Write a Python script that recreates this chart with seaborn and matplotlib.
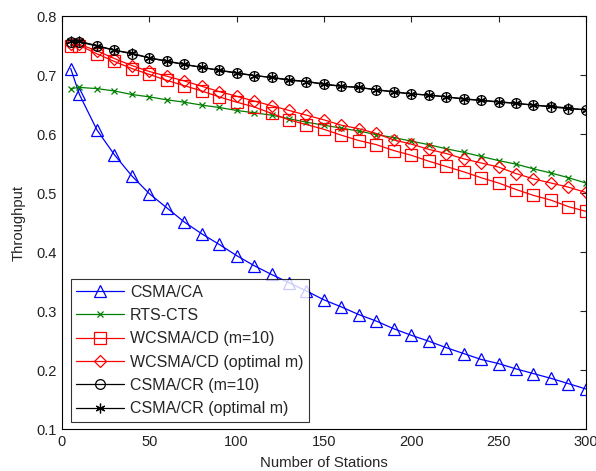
import matplotlib
matplotlib.use("Agg")
import matplotlib.pyplot as plt
import seaborn as sns
import numpy as np

stations = [5, 10, 20, 30, 40, 50, 60, 70, 80, 90, 100, 110, 120, 130, 140, 150,
            160, 170, 180, 190, 200, 210, 220, 230, 240, 250, 260, 270, 280, 290, 300]

csma_ca = [0.711, 0.667, 0.607, 0.565, 0.529, 0.499, 0.475, 0.451, 0.431, 0.413, 0.394,
           0.377, 0.362, 0.348, 0.334, 0.319, 0.307, 0.294, 0.283, 0.270, 0.259, 0.249,
           0.238, 0.228, 0.218, 0.211, 0.202, 0.194, 0.186, 0.177, 0.168]

rts_cts = [0.677, 0.679, 0.677, 0.673, 0.667, 0.663, 0.658, 0.654, 0.649, 0.645, 0.640,
           0.636, 0.632, 0.626, 0.620, 0.615, 0.610, 0.605, 0.599, 0.594, 0.588, 0.582,
           0.575, 0.569, 0.562, 0.555, 0.549, 0.541, 0.534, 0.526, 0.517]

wcsma_m10 = [0.750, 0.750, 0.736, 0.723, 0.711, 0.701, 0.691, 0.682, 0.673, 0.663, 0.654,
             0.646, 0.635, 0.624, 0.616, 0.608, 0.598, 0.589, 0.582, 0.572, 0.564, 0.554,
             0.545, 0.536, 0.526, 0.517, 0.506, 0.496, 0.488, 0.477, 0.469]

wcsma_opt = [0.752, 0.752, 0.741, 0.728, 0.716, 0.706, 0.698, 0.690, 0.681, 0.672, 0.664,
             0.656, 0.648, 0.640, 0.632, 0.624, 0.615, 0.609, 0.601, 0.590, 0.583, 0.574,
             0.567, 0.558, 0.551, 0.544, 0.533, 0.524, 0.517, 0.510, 0.501]

csmacr_m10 = [0.756, 0.756, 0.749, 0.742, 0.736, 0.729, 0.723, 0.718, 0.713, 0.708, 0.703,
              0.699, 0.696, 0.691, 0.689, 0.684, 0.681, 0.679, 0.675, 0.671, 0.668, 0.666,
              0.663, 0.659, 0.657, 0.654, 0.652, 0.649, 0.646, 0.643, 0.641]

csmacr_opt = [0.757, 0.757, 0.750, 0.742, 0.737, 0.729, 0.724, 0.718, 0.713, 0.708, 0.704,
              0.699, 0.696, 0.692, 0.689, 0.685, 0.681, 0.679, 0.675, 0.672, 0.668, 0.666,
              0.663, 0.660, 0.657, 0.655, 0.652, 0.649, 0.647, 0.644, 0.641]

labels = ["CSMA/CA", "RTS-CTS", "WCSMA/CD (m=10)", "WCSMA/CD (optimal m)",
          "CSMA/CR (m=10)", "CSMA/CR (optimal m)"]
x_ticks = [0, 50, 100, 150, 200, 250, 300]
y_ticks = [0.1, 0.2, 0.3, 0.4, 0.5, 0.6, 0.7, 0.8]

sns.set_style("white")
plt.rcParams['font.family'] = ['Liberation Sans', 'DejaVu Sans']
plt.rcParams['xtick.direction'] = 'in'
plt.rcParams['ytick.direction'] = 'in'

fig = plt.figure(figsize=(5.96, 4.71), dpi=100)
ax = fig.add_axes([0.104, 0.089, 0.879, 0.877])

series = [
    (csma_ca, labels[0], (0, 0, 1), '^', 8, 'none'),
    (rts_cts, labels[1], (0, 0.5, 0), 'x', 4, None),
    (wcsma_m10, labels[2], (1, 0, 0), 's', 8, 'none'),
    (wcsma_opt, labels[3], (1, 0, 0), 'D', 6.5, 'none'),
    (csmacr_m10, labels[4], (0, 0, 0), 'o', 7, 'none'),
    (csmacr_opt, labels[5], (0, 0, 0), (6, 2, 0), 7, None),
]

for vals, lab, col, mk, ms, mfc in series:
    kw = dict(color=col, marker=mk, markersize=ms, markeredgecolor=col,
              markeredgewidth=0.9, linewidth=0.9)
    if mfc is not None:
        kw['markerfacecolor'] = mfc
    sns.lineplot(x=stations, y=vals, ax=ax, label=lab, **kw)

ax.set_xlim(0, 300)
ax.set_ylim(0.1, 0.8)
ax.set_xticks(x_ticks)
ax.set_yticks(y_ticks)
ax.set_xticklabels([str(t) for t in x_ticks])
ax.set_yticklabels([f"{t:.1f}" for t in y_ticks])
ax.tick_params(axis='both', which='both', direction='in', length=4, width=0.8,
               top=True, right=True, labelsize=10.5, pad=4, colors='#222222')
for s in ax.spines.values():
    s.set_color('black')
    s.set_linewidth(0.8)
ax.set_xlabel("Number of Stations", fontsize=10.7, labelpad=5.5)
ax.set_ylabel("Throughput", fontsize=10.7, labelpad=7.5)

leg = ax.legend(loc='lower left', bbox_to_anchor=(0.0166, 0.0177), borderaxespad=0,
                fontsize=11.5, frameon=True, fancybox=False, handlelength=3.0,
                handletextpad=0.35, labelspacing=0.52, borderpad=0.35)
leg.get_frame().set_edgecolor('black')
leg.get_frame().set_linewidth(0.8)

fig.savefig("out.png", dpi=100)
